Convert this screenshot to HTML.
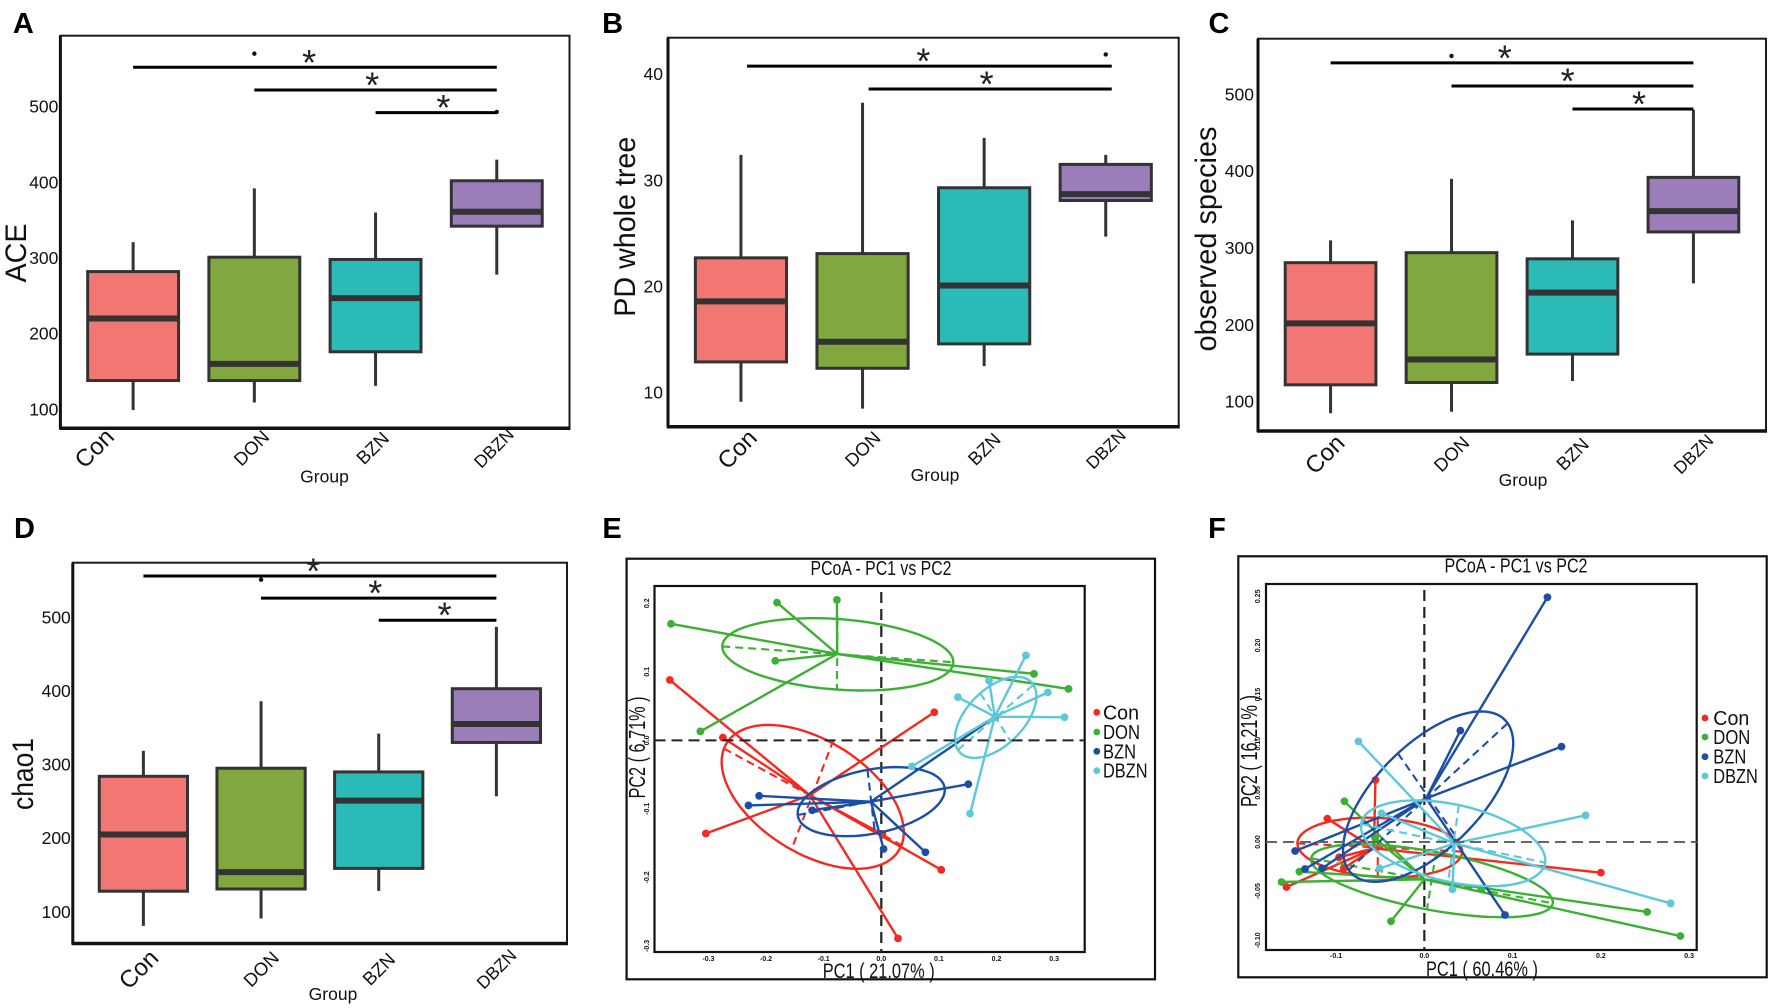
<!DOCTYPE html>
<html lang="en">
<head>
<meta charset="utf-8">
<title>Alpha diversity boxplots and PCoA</title>
<style>
html,body{margin:0;padding:0;background:#fff;}
svg{display:block;font-family:"Liberation Sans",sans-serif;filter:blur(0.35px);}
</style>
</head>
<body>
<svg id="figure" xmlns="http://www.w3.org/2000/svg" width="1772" height="1008" viewBox="0 0 1772 1008"></svg>
<script>
const categories = ['Con','DON','BZN','DBZN'];

const aceHigh = [321,392,360,430];
const aceQ3 = [282,301,298,402];
const aceMedian = [220,160,247,361];
const aceQ1 = [138,138,176,342];
const aceLow = [99,109,131,278];
const aceTicks = [100,200,300,400,500];
const aceSigLevels = [552,522,492];

const pdHigh = [32.4,37.3,34,32.4];
const pdQ3 = [22.7,23.1,29.3,31.5];
const pdMedian = [18.6,14.8,20.1,28.7];
const pdQ1 = [12.9,12.3,14.6,28.1];
const pdLow = [9.15,8.5,12.5,24.7];
const pdTicks = [10,20,30,40];
const pdSigLevels = [40.75,38.6];

const obsHigh = [310,390,336,480];
const obsQ3 = [281,294,286,392];
const obsMedian = [202,155,242,348];
const obsQ1 = [122,125,162,321];
const obsLow = [85,87,127,254];
const obsTicks = [100,200,300,400,500];
const obsSigLevels = [541,511,481];

const chaoHigh = [318.6,386,342,487];
const chaoQ3 = [284,295,290,403];
const chaoMedian = [205,154,251,355];
const chaoQ1 = [128,131,159,330];
const chaoLow = [81,91,128.5,257];
const chaoTicks = [100,200,300,400,500];
const chaoSigLevels = [556,526,496];

const groupNames = ['Con','DON','BZN','DBZN'];

const eConX = [-0.367,-0.275,-0.3045,0.092,0.104,0.029,0.002];
const eConY = [0.088,0.004,-0.136,0.041,-0.189,-0.289,-0.137];
const eDonX = [-0.365,-0.181,-0.077,-0.184,-0.314,0.265,0.325];
const eDonY = [0.170,0.201,0.205,0.116,0.013,0.097,0.075];
const eBznX = [-0.212,-0.2305,-0.120,0.004,0.0766,0.151,0.198];
const eBznY = [-0.081,-0.095,-0.102,-0.1586,-0.1634,-0.064,0.0345];
const eDbznX = [0.251,0.187,0.133,0.289,0.318,0.154,0.053];
const eDbznY = [0.124,0.087,0.063,0.070,0.0336,-0.107,-0.038];
const eCentroidX = [-0.124,-0.0766,-0.018,0.197];
const eCentroidY = [-0.080,0.126,-0.0895,0.0345];
const eMajorX1 = [-0.273,-0.276,-0.145,0.133];
const eMajorY1 = [-0.012,0.137,-0.109,-0.014];
const eMajorX2 = [0.035,0.125,0.110,0.264];
const eMajorY2 = [-0.153,0.114,-0.070,0.081];
const eMinorX1 = [-0.083,-0.076,-0.024,0.172];
const eMinorY1 = [0.0005,0.177,-0.043,0.0686];
const eMinorX2 = [-0.154,-0.077,-0.011,0.225];
const eMinorY2 = [-0.155,0.074,-0.136,-0.002];
const eTicksX = [-0.3,-0.2,-0.1,0,0.1,0.2,0.3];
const eTicksY = [-0.3,-0.2,-0.1,0,0.1,0.2];

const fConX = [-0.1099,-0.0554,-0.1562,0.2,-0.0966,-0.0914];
const fConY = [0.0237,0.0631,-0.0458,-0.0312,-0.0156,-0.0268];
const fDonX = [-0.1618,-0.1416,-0.0906,-0.0558,-0.0378,0.2524,0.2901];
const fDonY = [-0.0407,-0.0302,0.0414,0.0037,-0.0807,-0.0712,-0.0957];
const fBznX = [0.1395,0.0408,0.1554,-0.1464,-0.1352,0.0914,-0.1159];
const fBznY = [0.249,0.1133,0.097,-0.0092,-0.0275,-0.0743,-0.0268];
const fDbznX = [-0.0747,-0.0485,0.1828,-0.0506,0.0318,0.279];
const fDbznY = [0.1024,0.0292,0.0271,-0.0268,-0.0482,-0.0624];
const fCentroidX = [-0.0571,0,0.0021,0.0343];
const fCentroidY = [-0.0064,-0.038,0.0444,-0.0014];
const fMajorX1 = [-0.1438,-0.1283,-0.0858,-0.0717];
const fMajorY1 = [-0.0014,-0.0166,-0.0285,0.0183];
const fMajorX2 = [0.0429,0.1455,0.0944,0.1369];
const fMajorY2 = [-0.0098,-0.0624,0.1208,-0.021];
const fMinorX1 = [-0.0528,0.0133,-0.03,0.0391];
const fMinorY1 = [0.0241,-0.0102,0.0902,0.0373];
const fMinorX2 = [-0.0528,0.003,0.0386,0.027];
const fMinorY2 = [-0.036,-0.0685,0.002,-0.0407];
const fTicksX = [-0.1,0,0.1,0.2,0.3];
const fTicksY = [-0.1,-0.05,0,0.05,0.1,0.15,0.2,0.25];

const boxFills = ['#F27672','#80A83F','#2ABBB9','#9A7DB9'];
const groupColors = ['#F42A20','#3CB034','#1B4EA6','#5CC8D8'];
const SVGNS = 'http://www.w3.org/2000/svg';
const figure = document.getElementById('figure');

function svgEl(tag, attrs, parent){
  const node = document.createElementNS(SVGNS, tag);
  for(const k in attrs){ node.setAttribute(k, attrs[k]); }
  parent.appendChild(node);
  return node;
}
function label(str, x, y, size, parent, opts){
  const o = opts || {};
  const a = {x:x, y:y, 'font-size':size, fill:o.fill||'#111', 'text-anchor':o.anchor||'middle'};
  if(o.weight){ a['font-weight'] = o.weight; }
  if(o.len){ a.textLength = o.len; a.lengthAdjust = 'spacingAndGlyphs'; }
  if(o.rot !== undefined){ a.transform = 'rotate(' + o.rot + ' ' + x + ' ' + (o.ry !== undefined ? o.ry : y) + ')'; }
  const t = svgEl('text', a, parent);
  t.textContent = str;
  return t;
}

function drawBoxPanel(p){
  const g = svgEl('g', {}, figure);
  
  
  const W = p.right - p.left;
  const step = W / 4.2;
  const xAt = function(c){ return p.left + (0.6 + c) * step; };
  const yAt = function(v){ return p.bottom - (v - p.vMin) / (p.vMax - p.vMin) * (p.bottom - p.top); };

  const letter = label(p.letter, p.letterX, p.letterY, 29, g, {weight:'bold', fill:'#000'});
  
  

  const frame = svgEl('rect', {x:p.left, y:p.top, width:W, height:p.bottom-p.top, fill:'#fff', stroke:'#1a1a1a', 'stroke-width':2}, g);
  
  
  const axisL = svgEl('line', {x1:p.left, x2:p.left, y1:p.top, y2:p.bottom+1, stroke:'#111', 'stroke-width':3}, g);
  
  
  const axisB = svgEl('line', {x1:p.left-1, x2:p.right+1, y1:p.bottom, y2:p.bottom, stroke:'#111', 'stroke-width':3.5}, g);
  
  

  p.ticks.forEach(function(v){
    const t = label(String(v), p.left + p.tickGap, yAt(v) + 6, 17.5, g, {anchor:'end'});
    
    
  });

  categories.forEach(function(cat, i){
    const cx = xAt(i);
    const bw = step * 0.75;
    const wh = svgEl('line', {x1:cx, x2:cx, y1:yAt(p.high[i]), y2:yAt(p.low[i]), stroke:'#333', 'stroke-width':3}, g);
    
    
    const box = svgEl('rect', {x:cx-bw/2, y:yAt(p.q3[i]), width:bw, height:yAt(p.q1[i])-yAt(p.q3[i]), fill:boxFills[i], stroke:'#333', 'stroke-width':3}, g);
    
    
    const med = svgEl('line', {x1:cx-bw/2, x2:cx+bw/2, y1:yAt(p.median[i]), y2:yAt(p.median[i]), stroke:'#333', 'stroke-width':6}, g);
    
    
    const lx = cx + p.labelDx[i];
    const ly = p.labelY;
    const size = i === 0 ? 24 : (i === 3 ? 17.5 : 18.5);
    const tl = label(cat, lx, ly + size*0.35, size, g, {rot:-45, ry:ly});
    
    
  });

  p.sig.forEach(function(v, k){
    const from = k + p.sigStart;
    const line = svgEl('line', {x1:xAt(from), x2:xAt(3)+p.sigEnd, y1:yAt(v), y2:yAt(v), stroke:'#000', 'stroke-width':3}, g);
    
    
    const st = label('*', xAt(p.starCat[k]), yAt(v) + 7.5, 36, g, {fill:'#222'});
    
    
  });
  p.dots.forEach(function(d){
    const dot = svgEl('circle', {cx:xAt(d[0]), cy:yAt(d[1]), r:2.2, fill:'#111'}, g);
    
    
  });

  const yt = label(p.title, p.titleX, p.titleY, 30, g, {rot:-90, len:p.titleLen});
  
  
  const xt = label('Group', p.groupX, p.groupY + 6, 17.5, g);
  
  
}

drawBoxPanel({letter:'A', letterX:23.4, letterY:33, left:60.4, right:569.5, top:35.7, bottom:428.3, vMin:74.9, vMax:593.7,
  high:aceHigh, q3:aceQ3, median:aceMedian, q1:aceQ1, low:aceLow, ticks:aceTicks, tickGap:-2, sig:aceSigLevels, sigStart:0, sigEnd:0,
  starCat:[1.452,1.973,2.56], dots:[[1,570],[3,493]], labelDx:[-39,-3,-3,-3], labelY:448,
  title:'ACE', titleX:26, titleY:253, titleLen:59, groupX:324.5, groupY:476.7});
drawBoxPanel({letter:'B', letterX:612.6, letterY:33, left:668, right:1178.7, top:37.7, bottom:426.7, vMin:6.8, vMax:43.43,
  high:pdHigh, q3:pdQ3, median:pdMedian, q1:pdQ1, low:pdLow, ticks:pdTicks, tickGap:-5, sig:pdSigLevels, sigStart:0.05, sigEnd:6,
  starCat:[1.5,2.02], dots:[[3,41.85]], labelDx:[-4,0,0,0], labelY:449,
  title:'PD whole tree', titleX:635, titleY:226.7, titleLen:180, groupX:935, groupY:475});
drawBoxPanel({letter:'C', letterX:1219, letterY:33, left:1258, right:1766, top:38.7, bottom:431, vMin:61.9, vMax:572.5,
  high:obsHigh, q3:obsQ3, median:obsMedian, q1:obsQ1, low:obsLow, ticks:obsTicks, tickGap:-4, sig:obsSigLevels, sigStart:0, sigEnd:0,
  starCat:[1.44,1.96,2.55], dots:[[1,550]], labelDx:[-6,0,0,0], labelY:454,
  title:'observed species', titleX:1216, titleY:239, titleLen:225, groupX:1523, groupY:480});
drawBoxPanel({letter:'D', letterX:24.5, letterY:538, left:72.8, right:567, top:562.7, bottom:943.5, vMin:57, vMax:574.1,
  high:chaoHigh, q3:chaoQ3, median:chaoMedian, q1:chaoQ1, low:chaoLow, ticks:chaoTicks, tickGap:-2, sig:chaoSigLevels, sigStart:0, sigEnd:0,
  starCat:[1.444,1.97,2.56], dots:[[1,551]], labelDx:[-5,0,0,0], labelY:969,
  title:'chao1', titleX:33, titleY:774, titleLen:72, groupX:333, groupY:994});

function drawPcoaPanel(p){
  const g = svgEl('g', {}, figure);
  
  
  const xAt = function(v){ return p.left + (v - p.xMin) / (p.xMax - p.xMin) * (p.right - p.left); };
  const yAt = function(v){ return p.bottom - (v - p.yMin) / (p.yMax - p.yMin) * (p.bottom - p.top); };

  const letter = label(p.letter, p.letterX, p.letterY, 29, g, {weight:'bold', fill:'#000'});
  
  

  const outer = svgEl('rect', {x:p.outerL, y:p.outerT, width:p.outerR-p.outerL, height:p.outerB-p.outerT, fill:'#fff', stroke:'#111', 'stroke-width':2.2}, g);
  
  
  const inner = svgEl('rect', {x:p.left, y:p.top, width:p.right-p.left, height:p.bottom-p.top, fill:'#fff', stroke:'#111', 'stroke-width':2.2}, g);
  
  

  const title = label('PCoA - PC1 vs PC2', p.titleX, p.titleY + 7, 20, g, {len:p.titleLen});
  
  
  const xTitle = label(p.xLabel, p.xLabelX, p.xLabelY + 7.5, 21, g, {len:112});
  
  
  const yTitle = label(p.yLabel, p.yLabelX, p.yLabelY, 23, g, {rot:-90, len:p.yLabelLen});
  
  

  p.ticksX.forEach(function(v){
    const t = label(v.toFixed(1), xAt(v), p.tickXY, 7, g, {weight:'bold'});
    
    
  });
  p.ticksY.forEach(function(v){
    const t = label(v.toFixed(p.yDigits), p.tickYX, yAt(v), 7, g, {weight:'bold', rot:-90});
    
    
  });

  const vz = svgEl('line', {x1:xAt(0), x2:xAt(0), y1:p.vTop, y2:p.bottom, stroke:'#222', 'stroke-width':2.2, 'stroke-dasharray':'11 6'}, g);
  
  

  groupNames.forEach(function(name, i){
    const color = groupColors[i];
    const sg = svgEl('g', {}, g);
    
    
    const cx = xAt(p.centroidX[i]);
    const cy = yAt(p.centroidY[i]);
    p.pointsX[i].forEach(function(px, j){
      const py = p.pointsY[i][j];
      const sp = svgEl('line', {x1:cx, y1:cy, x2:xAt(px), y2:yAt(py), stroke:color, 'stroke-width':2.4}, sg);
      
      
      const dot = svgEl('circle', {cx:xAt(px), cy:yAt(py), r:3.9, fill:color}, sg);
      
      
    });
    const mx1 = xAt(p.majorX1[i]), my1 = yAt(p.majorY1[i]), mx2 = xAt(p.majorX2[i]), my2 = yAt(p.majorY2[i]);
    const nx1 = xAt(p.minorX1[i]), ny1 = yAt(p.minorY1[i]), nx2 = xAt(p.minorX2[i]), ny2 = yAt(p.minorY2[i]);
    const ax = svgEl('line', {x1:mx1, y1:my1, x2:mx2, y2:my2, stroke:color, 'stroke-width':2.1, 'stroke-dasharray':'8 5'}, sg);
    
    
    const bx = svgEl('line', {x1:nx1, y1:ny1, x2:nx2, y2:ny2, stroke:color, 'stroke-width':2.1, 'stroke-dasharray':'8 5'}, sg);
    
    
    const ex = (mx1 + mx2) / 2, ey = (my1 + my2) / 2;
    const ux = (mx2 - mx1) / 2, uy = (my2 - my1) / 2, wx = (nx2 - nx1) / 2, wy = (ny2 - ny1) / 2;
    let d = '';
    for(let s = 0; s <= 96; s++){
      const th = s / 96 * Math.PI * 2;
      const qx = ex + Math.cos(th) * ux + Math.sin(th) * wx;
      const qy = ey + Math.cos(th) * uy + Math.sin(th) * wy;
      d += (s === 0 ? 'M' : 'L') + qx.toFixed(1) + ' ' + qy.toFixed(1);
    }
    const ell = svgEl('path', {d:d + 'Z', fill:'none', stroke:color, 'stroke-width':2.4}, sg);
    
    

    const ld = svgEl('circle', {cx:p.legendDotX, cy:p.legendY[i], r:3.4, fill:color}, g);
    
    
    const lt = label(name, p.legendTextX, p.legendY[i] + 7, 20, g, {anchor:'start', len: i === 0 ? 36 : (i === 3 ? 44.5 : (i === 1 ? 37 : 33))});
    
    
  });

  const hz = svgEl('line', {x1:p.left, x2:p.right, y1:yAt(0), y2:yAt(0), stroke:p.hColor, 'stroke-width':2, 'stroke-dasharray':'11 6'}, g);
  
  
}

drawPcoaPanel({letter:'E', letterX:612, letterY:538, outerL:626.6, outerR:1155, outerT:558.7, outerB:979.3,
  left:654.5, right:1084.7, top:586, bottom:952, xMin:-0.3936, xMax:0.3530, yMin:-0.3089, yMax:0.2252,
  pointsX:[eConX,eDonX,eBznX,eDbznX], pointsY:[eConY,eDonY,eBznY,eDbznY], centroidX:eCentroidX, centroidY:eCentroidY,
  majorX1:eMajorX1, majorY1:eMajorY1, majorX2:eMajorX2, majorY2:eMajorY2, minorX1:eMinorX1, minorY1:eMinorY1, minorX2:eMinorX2, minorY2:eMinorY2,
  ticksX:eTicksX, ticksY:eTicksY, yDigits:1, tickXY:961, tickYX:649, vTop:592, hColor:'#222',
  titleX:881, titleY:568, titleLen:141, xLabel:'PC1 ( 21.07% )', xLabelX:878.7, xLabelY:970.7,
  yLabel:'PC2 ( 6.71% )', yLabelX:645, yLabelY:747.5, yLabelLen:102,
  legendDotX:1096.8, legendTextX:1103, legendY:[712.3,732,751.3,770.7]});
drawPcoaPanel({letter:'F', letterX:1217, letterY:538, outerL:1238.3, outerR:1766.7, outerT:556.3, outerB:977.3,
  left:1266, right:1696.7, top:584, bottom:950, xMin:-0.1794, xMax:0.3086, yMin:-0.1099, yMax:0.2625,
  pointsX:[fConX,fDonX,fBznX,fDbznX], pointsY:[fConY,fDonY,fBznY,fDbznY], centroidX:fCentroidX, centroidY:fCentroidY,
  majorX1:fMajorX1, majorY1:fMajorY1, majorX2:fMajorX2, majorY2:fMajorY2, minorX1:fMinorX1, minorY1:fMinorY1, minorX2:fMinorX2, minorY2:fMinorY2,
  ticksX:fTicksX, ticksY:fTicksY, yDigits:2, tickXY:958, tickYX:1260, vTop:590, hColor:'#666',
  titleX:1516, titleY:565.7, titleLen:143, xLabel:'PC1 ( 60.46% )', xLabelX:1482, xLabelY:968.3,
  yLabel:'PC2 ( 16.21% )', yLabelX:1257, yLabelY:751, yLabelLen:112,
  legendDotX:1705, legendTextX:1713.3, legendY:[718,737,756.7,776]});
</script>
</body>
</html>
